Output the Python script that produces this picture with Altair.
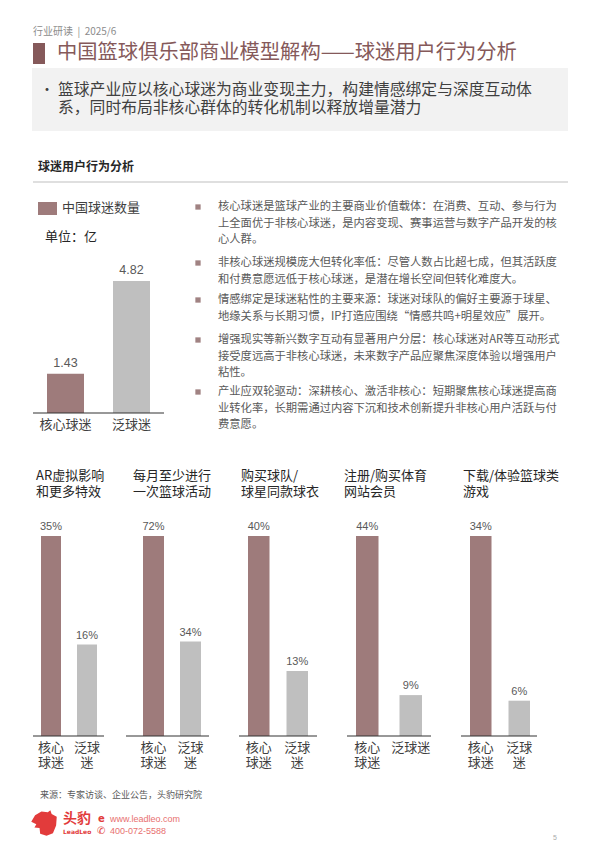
import altair as alt
import pandas as pd

# ---------------- data ----------------
header_text = "行业研读\u00a0\u00a0|\u00a0\u00a02025/6"
page_title = "中国篮球俱乐部商业模型解构——球迷用户行为分析"
summary_lines = [
    "篮球产业应以核心球迷为商业变现主力，构建情感绑定与深度互动体",
    "系，同时布局非核心群体的转化机制以释放增量潜力",
]
section_title = "球迷用户行为分析"
legend_label = "中国球迷数量"
unit_label = "单位：亿"
fan_categories = ["核心球迷", "泛球迷"]
fan_counts = [1.43, 4.82]
fan_count_labels = ["1.43", "4.82"]

insights = [
    ["核心球迷是篮球产业的主要商业价值载体：在消费、互动、参与行为",
     "上全面优于非核心球迷，是内容变现、赛事运营与数字产品开发的核",
     "心人群。"],
    ["非核心球迷规模庞大但转化率低：尽管人数占比超七成，但其活跃度",
     "和付费意愿远低于核心球迷，是潜在增长空间但转化难度大。"],
    ["情感绑定是球迷粘性的主要来源：球迷对球队的偏好主要源于球星、",
     "地缘关系与长期习惯，IP打造应围绕“情感共鸣+明星效应”展开。"],
    ["增强现实等新兴数字互动有显著用户分层：核心球迷对AR等互动形式",
     "接受度远高于非核心球迷，未来数字产品应聚焦深度体验以增强用户",
     "粘性。"],
    ["产业应双轮驱动：深耕核心、激活非核心：短期聚焦核心球迷提高商",
     "业转化率，长期需通过内容下沉和技术创新提升非核心用户活跃与付",
     "费意愿。"],
]

behavior_titles = [
    ["AR虚拟影响", "和更多特效"],
    ["每月至少进行", "一次篮球活动"],
    ["购买球队/", "球星同款球衣"],
    ["注册/购买体育", "网站会员"],
    ["下载/体验篮球类", "游戏"],
]
core_pct = [35, 72, 40, 44, 34]
casual_pct = [16, 34, 13, 9, 6]
core_tick_labels = [["核心", "球迷"]] * 5
casual_tick_labels = [["泛球", "迷"], ["泛球", "迷"], ["泛球", "迷"], ["泛球迷", ""], ["泛球", "迷"]]

source_text = "来源：专家访谈、企业公告，头豹研究院"
brand_cn = "头豹"
brand_en = "LeadLeo"
website = "www.leadleo.com"
phone = "400-072-5588"
page_number = "5"

# ---------------- style / layout ----------------
CJK = "Noto Sans CJK SC"
LATIN = "Liberation Sans"
CORE = "#9E7B7B"
CASUAL = "#BFBFBF"
TITLE_C = "#85595A"
RED = "#E23B3B"
OFF = 8


def p(v):
    return v - OFF


def one():
    return pd.DataFrame({"a": [0]})


def text(s, x, y, size, color, align="left", baseline="middle", weight="normal", font=CJK):
    return alt.Chart(pd.DataFrame({"t": [s]})).mark_text(
        align=align, baseline=baseline, fontSize=size, color=color,
        fontWeight=weight, font=font
    ).encode(x=alt.value(p(x)), y=alt.value(p(y)), text="t:N")


def rect(x1, y1, x2, y2, color):
    return alt.Chart(one()).mark_rect(color=color).encode(
        x=alt.value(p(x1)), x2=alt.value(p(x2)), y=alt.value(p(y1)), y2=alt.value(p(y2)))


def hline(x1, x2, y, color, w=1.0):
    return alt.Chart(one()).mark_rule(color=color, strokeWidth=w).encode(
        x=alt.value(p(x1)), x2=alt.value(p(x2)), y=alt.value(p(y)))


color_scale = alt.Scale(domain=fan_categories, range=[CORE, CASUAL])


def bar_panel(values, value_labels, tick_lines, core_l, pan_r, bw, base_y, top_y,
              base_l, base_r, label_dy, val_size, tick_y, tick_size, tick_lh):
    W = pan_r - core_l
    step = W - bw
    pin = 1 - bw / step
    xs = alt.Scale(type="band", domain=fan_categories, range=[p(core_l), p(pan_r)],
                   paddingInner=pin, paddingOuter=0)
    ys = alt.Scale(domain=[0, max(values)], range=[p(base_y), p(top_y)], nice=False, zero=True)
    df = pd.DataFrame({"cat": fan_categories, "val": values, "vt": value_labels})
    X = alt.X("cat:N", scale=xs, axis=None)
    Xc = alt.X("cat:N", scale=xs, axis=None, bandPosition=0.5)
    Y = alt.Y("val:Q", scale=ys, axis=None)
    out = []
    out.append(alt.Chart(df).mark_bar().encode(
        x=X, y=Y, color=alt.Color("cat:N", scale=color_scale, legend=None)))
    out.append(hline(base_l, base_r, base_y, "#333333", 1.2))
    out.append(alt.Chart(df).mark_text(
        dy=-label_dy, baseline="middle", align="center", fontSize=val_size,
        color="#595959", font=LATIN
    ).encode(x=Xc, y=Y, text="vt:N"))
    n_lines = max(len(t) for t in tick_lines)
    for li in range(n_lines):
        rows = [(c, t[li]) for c, t in zip(fan_categories, tick_lines)
                if li < len(t) and t[li]]
        ldf = pd.DataFrame({"cat": [r[0] for r in rows], "lab": [r[1] for r in rows]})
        out.append(alt.Chart(ldf).mark_text(
            baseline="middle", align="center", fontSize=tick_size, color="#404040", font=CJK
        ).encode(x=Xc, y=alt.value(p(tick_y + tick_lh * li)), text="lab:N"))
    return out


layers = []

# header
layers.append(text(header_text, 33, 32, 10, "#8C8C8C"))
layers.append(rect(33, 43, 45, 64, TITLE_C))
layers.append(text(page_title, 57, 53, 20.3, TITLE_C))
layers.append(rect(32, 68, 568, 131, "#F2F2F2"))
layers.append(text("•", 40, 90, 14, "#404040"))
for i, line in enumerate(summary_lines):
    layers.append(text(line, 58, 90 + 18 * i, 15.8, "#404040"))

# section
layers.append(text(section_title, 38, 167, 12, "#262626", weight="bold"))
layers.append(hline(33, 568, 182, "#BFBFBF", 1))

# main chart
layers.append(rect(38, 202, 57, 215, CORE))
layers.append(text(legend_label, 62, 208, 13, "#404040"))
layers.append(text(unit_label, 45, 237, 13, "#262626"))
layers += bar_panel(fan_counts, fan_count_labels, [[c] for c in fan_categories],
                    47, 150, 37, 413, 281, 33, 164, 11, 12.5, 425, 13, 15)

# insights
item_y = [207, 263, 300, 340, 392]
LH = 16.6
for y0, lines in zip(item_y, insights):
    layers.append(alt.Chart(one()).mark_square(size=28, color="#A08282", opacity=1).encode(
        x=alt.value(p(198)), y=alt.value(p(y0))))
    for j, line in enumerate(lines):
        layers.append(text(line, 218, y0 + LH * j, 11.3, "#595959"))

# small panels
panel_layout = [
    # core_l, pan_r, bw, base_l, base_r, title_x
    (41, 97, 20, 33, 104, 36),
    (143, 201, 21, 126, 209, 133),
    (248, 308, 21.5, 239, 317, 241),
    (356, 422, 22.5, 347, 431, 344),
    (470, 530, 21.5, 461, 537, 463),
]
for k, (cl, pr, bw, bl, br, tx) in enumerate(panel_layout):
    for j, line in enumerate(behavior_titles[k]):
        layers.append(text(line, tx, 476 + 16 * j, 13, "#262626"))
    vals = [core_pct[k], casual_pct[k]]
    labs = [f"{v}%" for v in vals]
    layers += bar_panel(vals, labs, [core_tick_labels[k], casual_tick_labels[k]],
                        cl, pr, bw, 736, 536, bl, br, 9, 11, 748, 13, 14.5)

# footer
layers.append(text(source_text, 40, 795, 9, "#595959"))
leopard = ("M-1,-0.1 L-0.7,-0.6 L-0.2,-0.9 L0.3,-0.85 L0.5,-1 L0.6,-0.7 L1,-0.5 "
           "L0.95,0.2 L0.7,0.8 L0.2,1 L-0.3,0.85 L-0.35,0.4 L-0.75,0.35 L-0.6,0.1 Z")
layers.append(alt.Chart(one()).mark_point(shape=leopard, size=650, filled=True,
                                          color=RED, opacity=1).encode(
    x=alt.value(p(44)), y=alt.value(p(823))))
layers.append(text(brand_cn, 63, 819, 14, RED, weight="bold"))
layers.append(text(brand_en, 63, 832, 6, RED, weight="bold", font="DejaVu Sans"))
layers.append(text("e", 98, 819, 10, RED, weight="bold", font="DejaVu Sans"))
layers.append(text("✆", 97, 831, 10, RED, font="DejaVu Sans"))
layers.append(text(website, 110, 819, 9, "#E8706F", font=LATIN))
layers.append(text(phone, 110, 831, 9, "#E8706F", font=LATIN))
layers.append(text(page_number, 553, 838, 7, "#AAAAAA", font=LATIN))

chart = alt.layer(*layers).resolve_scale(
    x="independent", y="independent"
).properties(
    width=584, height=851, padding=0,
    autosize=alt.AutoSizeParams(type="none"),
    background="white",
).configure_view(stroke=None)

chart.save("out.html", embed_options={"renderer": "svg", "actions": False})
